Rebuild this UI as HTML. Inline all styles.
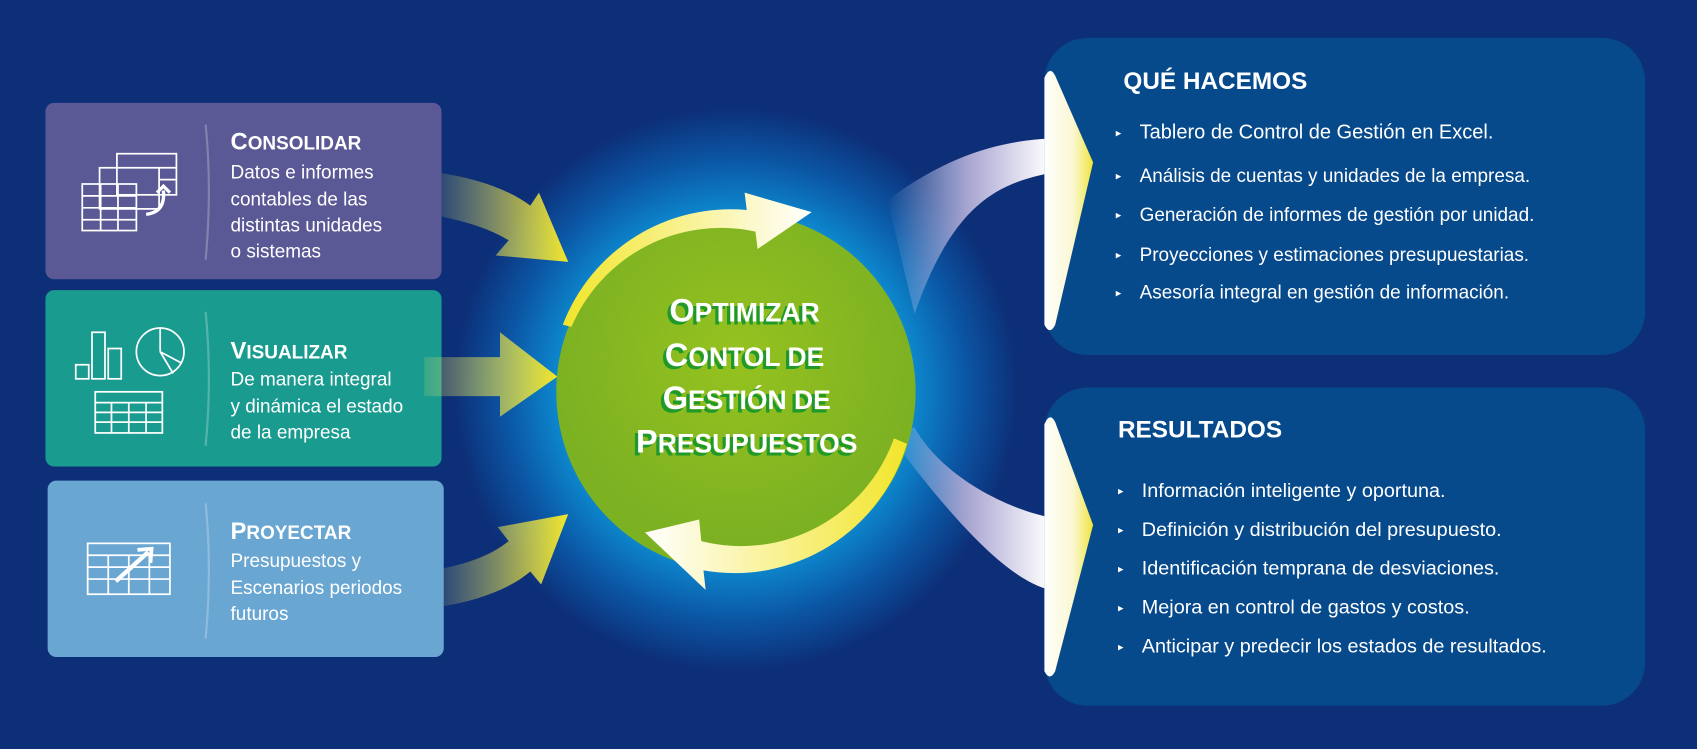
<!DOCTYPE html>
<html><head><meta charset="utf-8"><style>
html,body{margin:0;padding:0;background:#0d2f78;}
svg{display:block;}
text{font-family:"Liberation Sans",sans-serif;}
</style></head><body>
<svg width="1697" height="749" viewBox="0 0 1568 692" preserveAspectRatio="none" xmlns="http://www.w3.org/2000/svg">
<defs>
<radialGradient id="glow" cx="680" cy="360" r="260" gradientUnits="userSpaceOnUse">
<stop offset="0" stop-color="#22c4f0"/><stop offset="0.62" stop-color="#0d8bd0"/><stop offset="0.82" stop-color="#0b56a4"/><stop offset="1" stop-color="#0d2f78"/></radialGradient>
<radialGradient id="green" cx="680" cy="330" r="170" gradientUnits="userSpaceOnUse">
<stop offset="0" stop-color="#95c21f"/><stop offset="1" stop-color="#7cb122"/></radialGradient>
<linearGradient id="ly" x1="0" x2="1" y1="0" y2="0"><stop offset="0" stop-color="#e8e56a" stop-opacity="0.15"/><stop offset="1" stop-color="#f2e52a"/></linearGradient>
<linearGradient id="rw" x1="0" x2="1"><stop offset="0" stop-color="#b0c8f0" stop-opacity="0"/><stop offset="0.5" stop-color="#a9a6d2"/><stop offset="1" stop-color="#ffffff"/></linearGradient>
<linearGradient id="chev" x1="0" x2="1"><stop offset="0" stop-color="#ffffff"/><stop offset="0.6" stop-color="#faf7d0"/><stop offset="1" stop-color="#f0e43a"/></linearGradient>
<linearGradient id="arcY" x1="0" x2="1"><stop offset="0" stop-color="#f2e52a"/><stop offset="1" stop-color="#ffffff"/></linearGradient>
<linearGradient id="arcY2" x1="1" x2="0"><stop offset="0" stop-color="#f2e52a"/><stop offset="1" stop-color="#ffffff"/></linearGradient>
</defs>
<rect width="1568" height="692" fill="#0d2f78"/>
<circle cx="680" cy="360" r="260" fill="url(#glow)"/>

<!-- right curved arrows -->
<path d="M820 185 C880 140 930 130 970 128 L970 160 C920 170 880 190 845 290 Z" fill="url(#rw)"/>
<path d="M820 400 C880 480 930 535 970 545 L970 478 C930 470 870 440 845 395 Z" fill="url(#rw)"/>

<!-- right panels -->
<rect x="965" y="35" width="555" height="293" rx="40" fill="#074a8c"/>
<rect x="965" y="358" width="555" height="294" rx="40" fill="#074a8c"/>
<path d="M965 72 Q970 60 975 70 L1010 150 L975 300 Q970 310 965 300 Z" fill="url(#chev)"/>
<path d="M965 392 Q970 380 975 390 L1010 485 L975 620 Q970 630 965 620 Z" fill="url(#chev)"/>

<text x="1038" y="82" fill="#fff" font-size="22.5" font-weight="bold">QUÉ HACEMOS</text>
<g fill="#fff" font-size="17.5">
<text x="1053" y="128" font-size="18.5">Tablero de Control de Gestión en Excel.</text>
<text x="1053" y="168">Análisis de cuentas y unidades de la empresa.</text>
<text x="1053" y="204">Generación de informes de gestión por unidad.</text>
<text x="1053" y="241">Proyecciones y estimaciones presupuestarias.</text>
<text x="1053" y="276">Asesoría integral en gestión de información.</text>
<g font-size="18.3">
<text x="1055" y="459">Información inteligente y oportuna.</text>
<text x="1055" y="495">Definición y distribución del presupuesto.</text>
<text x="1055" y="531">Identificación temprana de desviaciones.</text>
<text x="1055" y="567">Mejora en control de gastos y costos.</text>
<text x="1055" y="603">Anticipar y predecir los estados de resultados.</text>
</g></g>
<g fill="#fff" font-size="10">
<text x="1031" y="126">▸</text><text x="1031" y="166">▸</text><text x="1031" y="202">▸</text><text x="1031" y="239">▸</text><text x="1031" y="274">▸</text>
<text x="1033" y="457">▸</text><text x="1033" y="493">▸</text><text x="1033" y="529">▸</text><text x="1033" y="565">▸</text><text x="1033" y="601">▸</text>
</g>
<text x="1033" y="404" fill="#fff" font-size="22.5" font-weight="bold">RESULTADOS</text>

<!-- left boxes -->
<rect x="42" y="95" width="366" height="163" rx="8" fill="#5a5895"/>
<rect x="42" y="268" width="366" height="163" rx="8" fill="#1a9b8f"/>
<rect x="44" y="444" width="366" height="163" rx="8" fill="#6aa6d2"/>
<g stroke="#ffffff" stroke-opacity="0.25" stroke-width="2" fill="none">
<path d="M190 115 Q196 175 190 240"/><path d="M190 288 Q196 350 190 412"/><path d="M190 465 Q196 525 190 590"/>
</g>
<!-- icons -->
<g stroke="#fff" stroke-width="1.6" fill="none">
<rect x="108" y="142" width="55" height="38"/><rect x="92" y="155" width="55" height="38"/><rect x="76" y="170" width="50" height="43"/>
<path d="M76 181h50M76 192h50M76 203h50M93 170v43M109 170v43M147 155h16M147 166h16"/>
<path d="M135 198 q18 -2 16 -22" stroke-width="3"/><path d="M145 178 l6 -6 l6 6" stroke-width="3"/>
<rect x="70" y="337" width="12" height="13"/><rect x="85" y="307" width="12" height="43"/><rect x="100" y="322" width="12" height="28"/>
<circle cx="148" cy="325" r="22"/><path d="M148 325 V303 M148 325 L167 335 M148 325 L160 345"/>
<rect x="88" y="362" width="62" height="38"/><path d="M88 372h62M88 381h62M88 390h62M103 372v28M119 372v28M135 372v28"/>
<rect x="81" y="502" width="76" height="47"/><path d="M81 513h76M81 524h76M81 535h76M100 513v36M119 513v36M138 513v36"/>
<path d="M107 537 L137 510" stroke-width="4"/><path d="M127 508 L140 507 L139 520" stroke-width="3.5"/>
</g>
<g fill="#fff">
<text x="213" y="138" font-size="22" font-weight="bold">C<tspan font-size="17.5">ONSOLIDAR</tspan></text>
<text x="213" y="331" font-size="22" font-weight="bold">V<tspan font-size="17.5">ISUALIZAR</tspan></text>
<text x="213" y="498" font-size="22" font-weight="bold">P<tspan font-size="17.5">ROYECTAR</tspan></text>
<g font-size="17.5">
<text x="213" y="165">Datos e informes</text><text x="213" y="190">contables de las</text><text x="213" y="214">distintas unidades</text><text x="213" y="238">o sistemas</text>
<text x="213" y="356">De manera integral</text><text x="213" y="381">y dinámica el estado</text><text x="213" y="405">de la empresa</text>
<text x="213" y="524">Presupuestos y</text><text x="213" y="549">Escenarios periodos</text><text x="213" y="573">futuros</text>
</g></g>

<!-- left arrows -->
<path d="M408 160 C440 165 470 175 490 190 L498 178 L525 242 L458 236 L470 222 C450 210 430 205 408 200 Z" fill="url(#ly)"/>
<path d="M392 330 L462 330 L462 307 L515 348 L462 385 L462 366 L392 366 Z" fill="url(#ly)"/>
<path d="M410 525 C435 520 455 512 470 500 L460 487 L525 475 L500 540 L490 528 C470 545 440 555 410 560 Z" fill="url(#ly)"/>

<!-- circle -->
<circle cx="680" cy="362" r="166" fill="url(#green)"/>
<path d="M520 300 A166 166 0 0 1 690 194 L688 178 L750 196 L700 230 L698 214 A150 150 0 0 0 528 302 Z" fill="url(#arcY)"/>
<path d="M838 410 A166 166 0 0 1 650 527 L652 545 L596 492 L646 480 L648 500 A150 150 0 0 0 826 405 Z" fill="url(#arcY2)"/>

<g font-weight="bold" text-anchor="middle">
<g fill="#1f9a2a" transform="translate(-3,3)">
<text x="688" y="297" font-size="30">O<tspan font-size="24.5">PTIMIZAR</tspan></text>
<text x="688" y="338" font-size="30">C<tspan font-size="24.5">ONTOL DE</tspan></text>
<text x="690" y="378" font-size="30">G<tspan font-size="24.5">ESTIÓN DE</tspan></text>
<text x="690" y="418" font-size="30">P<tspan font-size="24.5">RESUPUESTOS</tspan></text>
</g>
<g fill="#ffffff">
<text x="688" y="297" font-size="30">O<tspan font-size="24.5">PTIMIZAR</tspan></text>
<text x="688" y="338" font-size="30">C<tspan font-size="24.5">ONTOL DE</tspan></text>
<text x="690" y="378" font-size="30">G<tspan font-size="24.5">ESTIÓN DE</tspan></text>
<text x="690" y="418" font-size="30">P<tspan font-size="24.5">RESUPUESTOS</tspan></text>
</g></g>
</svg>
</body></html>
